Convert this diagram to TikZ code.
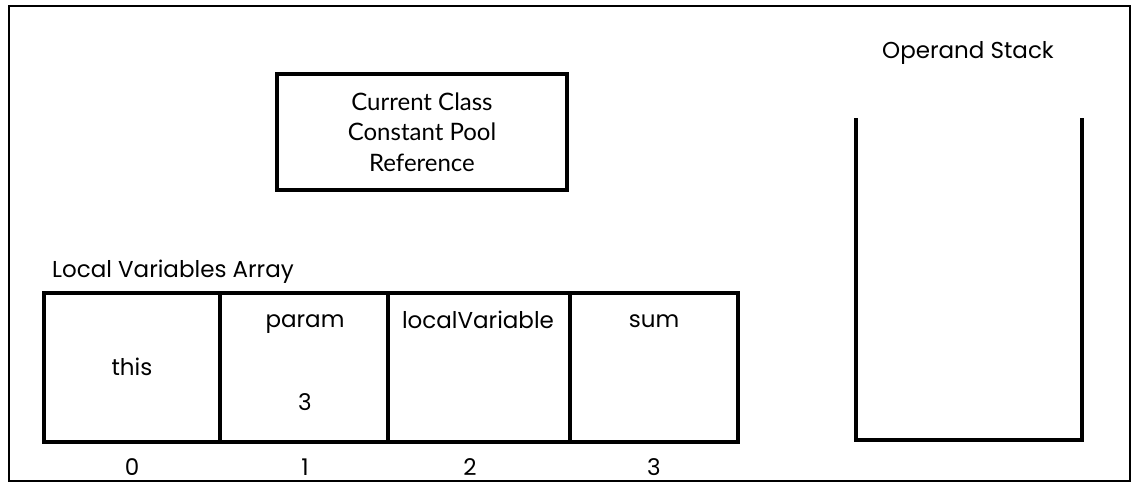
\documentclass[tikz,border=0pt]{standalone}
\usepackage{fontspec}
\setmainfont{Lato}
\newfontfamily\handfont{Poppins}
\tikzset{
  sketch/.style={draw=black, line width=3.2pt, line join=miter},
  lbl/.style={inner sep=0pt, font=\handfont\fontsize{23}{27}\selectfont},
  boxtxt/.style={inner sep=0pt, align=center, font=\fontsize{24}{30.5}\selectfont},
}
\begin{document}
\begin{tikzpicture}[x=1pt,y=-1pt]
\useasboundingbox (0,0) rectangle (1136,488);
\fill[white] (0,0) rectangle (1136,488);
% outer frame
\draw[sketch, line width=2.6pt] (9,6) rectangle (1130,481);
% constant pool box
\node[sketch, minimum width=290pt, minimum height=116pt, inner sep=0pt] (cp) at (422,132) {};
\node[boxtxt] (cpt) at (cp.center) {Current Class\\Constant Pool\\Reference};
% local variables array
\node[lbl, anchor=west] (lva) at (52,272) {Local Variables Array};
\node[sketch, minimum width=176pt, minimum height=149pt, inner sep=0pt] (c0) at (132,367.5) {};
\node[sketch, minimum width=168pt, minimum height=149pt, inner sep=0pt] (c1) at (304,367.5) {};
\node[sketch, minimum width=182pt, minimum height=149pt, inner sep=0pt] (c2) at (479,367.5) {};
\node[sketch, minimum width=168pt, minimum height=149pt, inner sep=0pt] (c3) at (654,367.5) {};
\node[lbl] (t0) at (132,367) {this};
\node[lbl] (t1) at (305,324) {param};
\node[lbl] (v1) at (305,402) {3};
\node[lbl] (t2) at (478,320) {localVariable};
\node[lbl] (t3) at (654,321) {sum};
\node[lbl] (i0) at (132,467) {0};
\node[lbl] (i1) at (305,467) {1};
\node[lbl] (i2) at (470,467) {2};
\node[lbl] (i3) at (654,467) {3};
% operand stack
\node[lbl] (os) at (968,53) {Operand Stack};
\coordinate (sa) at (856,118);
\coordinate (sb) at (856,440);
\coordinate (sc) at (1082,440);
\coordinate (sd) at (1082,118);
\draw[sketch] (sa) -- (sb) -- (sc) -- (sd);
\end{tikzpicture}
\end{document}
